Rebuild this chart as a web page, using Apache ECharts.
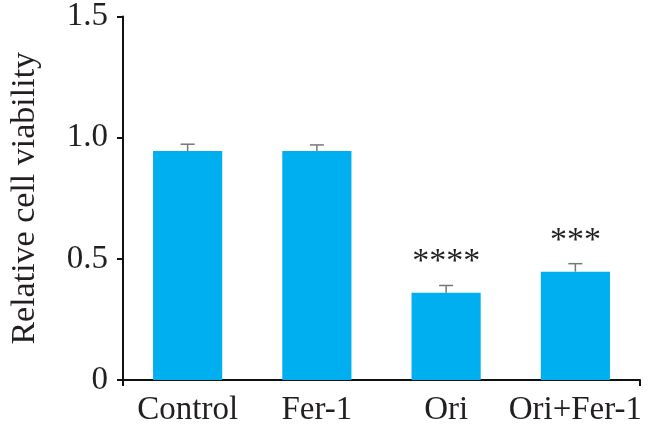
<!DOCTYPE html>
<html>
<head>
<meta charset="utf-8">
<script src="https://cdn.jsdelivr.net/npm/echarts@6/dist/echarts.min.js"></script>
<style>html,body{margin:0;padding:0;background:#fff}#c{width:654px;height:427px}</style>
</head>
<body>
<div id="c"></div>
<script>
var categories = ['Control', 'Fer-1', 'Ori', 'Ori+Fer-1'];
var means = [0.945, 0.945, 0.36, 0.447];
var errors = [0.028, 0.025, 0.03, 0.033];
var stars = ['', '', '****', '***'];
var yTicks = [0, 0.5, 1.0, 1.5];

var FONT = '"Liberation Serif", "Times New Roman", serif';
var chart = echarts.init(document.getElementById('c'), null, {renderer: 'canvas'});
var errData = means.map(function (m, i) { return [i, m, m + errors[i]]; });

chart.setOption({
  animation: false,
  backgroundColor: '#ffffff',
  grid: {left: 115, right: 14, top: 16, bottom: 46, containLabel: false},
  xAxis: [{
    type: 'category',
    data: categories,
    axisLine: {lineStyle: {color: '#111', width: 2}},
    axisTick: {alignWithLabel: true, length: 6, lineStyle: {color: '#111', width: 2}},
    axisLabel: {interval: 0, color: '#231f20', fontFamily: FONT, fontSize: 33, margin: 14}
  }, {
    type: 'value', position: 'bottom', min: 0, max: 1, interval: 1,
    axisLine: {show: false}, splitLine: {show: false}, axisLabel: {show: false},
    axisTick: {show: true, length: 6, lineStyle: {color: '#111', width: 2}}
  }],
  yAxis: {
    type: 'value', min: 0, max: 1.5, interval: 0.5,
    name: 'Relative cell viability', nameLocation: 'middle', nameGap: 81,
    nameTextStyle: {color: '#231f20', fontFamily: FONT, fontSize: 34},
    axisLine: {show: true, lineStyle: {color: '#111', width: 2}},
    axisTick: {show: true, length: 6, lineStyle: {color: '#111', width: 2}},
    splitLine: {show: false},
    axisLabel: {color: '#231f20', fontFamily: FONT, fontSize: 33, margin: 15,
      formatter: function (v) { return v === 0 ? '0' : v.toFixed(1); }}
  },
  series: [{
    type: 'bar', xAxisIndex: 0, data: means, barWidth: '53.5%',
    itemStyle: {color: '#00afef'},
    label: {show: true, position: 'top', distance: 14, color: '#231f20', fontFamily: FONT, fontSize: 34,
      formatter: function (p) { return stars[p.dataIndex]; }}
  }, {
    type: 'custom', xAxisIndex: 0, data: errData, z: 5,
    renderItem: function (params, api) {
      var x = api.value(0);
      var p0 = api.coord([x, api.value(1)]);
      var p1 = api.coord([x, api.value(2)]);
      var hw = 7;
      return {type: 'group', children: [
        {type: 'line', shape: {x1: p0[0], y1: p0[1], x2: p1[0], y2: p1[1]}, style: {stroke: '#777', lineWidth: 1.5}},
        {type: 'line', shape: {x1: p1[0] - hw, y1: p1[1], x2: p1[0] + hw, y2: p1[1]}, style: {stroke: '#777', lineWidth: 1.5}}
      ]};
    }
  }]
});
</script>
</body>
</html>
